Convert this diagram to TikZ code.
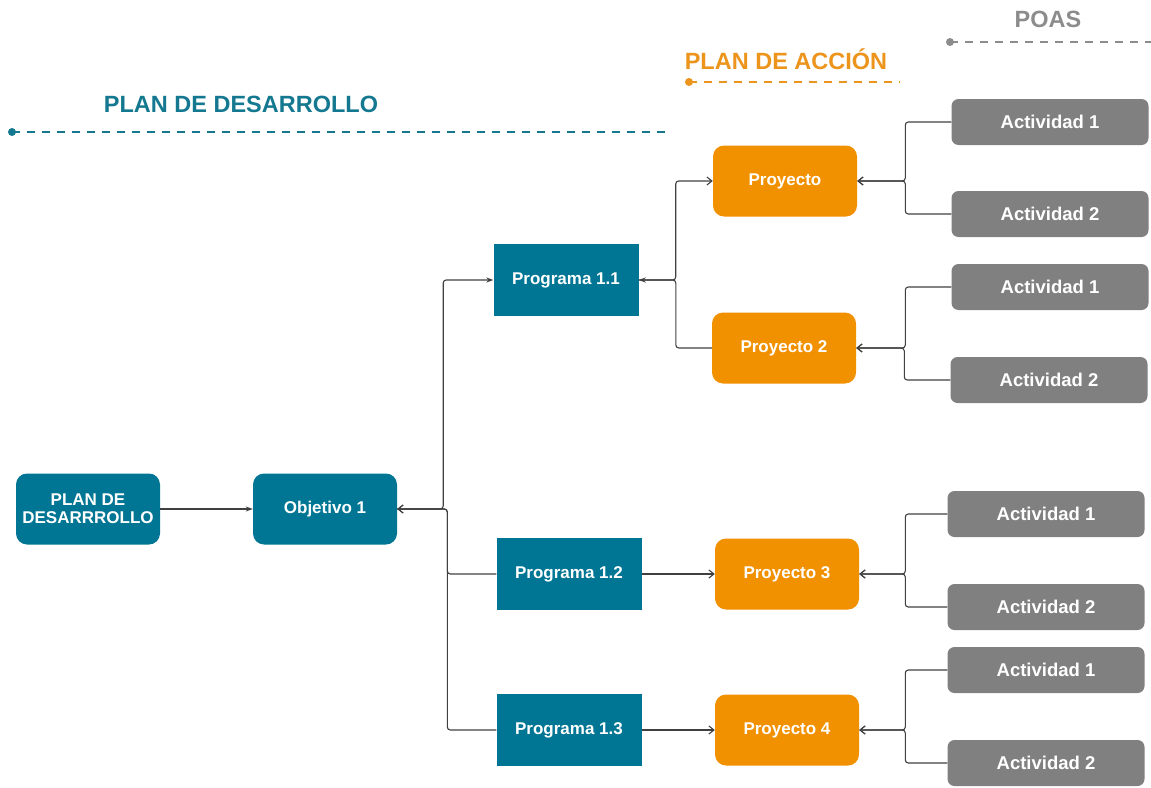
\documentclass[tikz,border=0pt]{standalone}
\usepackage{fontspec}
\setmainfont{Liberation Sans}
\usetikzlibrary{arrows.meta}
\definecolor{tealbox}{RGB}{0,118,148}
\definecolor{orangebox}{RGB}{242,145,0}
\definecolor{graybox}{RGB}{128,128,128}
\definecolor{tealtxt}{RGB}{20,120,145}
\definecolor{orangetxt}{RGB}{236,148,28}
\definecolor{graytxt}{RGB}{140,140,140}
\definecolor{linecol}{RGB}{64,64,64}
\begin{document}
\begin{tikzpicture}[x=1pt,y=-1pt,
      every node/.style = {align=center, text=white,
        font=\fontsize{17}{18}\selectfont\bfseries},
      plan/.style = {fill=tealbox, rounded corners=11pt,
        minimum width=144pt, minimum height=71pt},
      prog/.style = {fill=tealbox, minimum width=145pt, minimum height=72pt},
      proy/.style = {fill=orangebox, rounded corners=11pt,
        minimum width=144pt, minimum height=71pt},
      act/.style = {fill=graybox, rounded corners=7pt,
        minimum width=197pt, minimum height=46pt,
        font=\fontsize{18.5}{19}\selectfont\bfseries},
      title/.style = {font=\fontsize{23.5}{25}\selectfont\bfseries},
      link/.style = {draw=linecol, line width=1.1pt, rounded corners=3pt},
      open/.style = {link, -{Straight Barb[length=5pt,width=8pt]}},
      solid tip/.style = {link, -{Stealth[length=7pt,width=5pt]}}]
    \useasboundingbox (0,0) rectangle (1151,787);
    % titles
    \node[title, text=tealtxt] (tplan) at (241,104) {PLAN DE DESARROLLO};
    \node[title, text=orangetxt] (taccion) at (786,59) {PLAN DE ACCIÓN};
    \node[title, text=graytxt] (tpoas) at (1048,19) {POAS};
    \draw[tealtxt, line width=2.5pt, dash pattern=on 8pt off 7pt] (12,132) -- (668,132);
    \fill[tealtxt] (12,132) circle (4pt);
    \draw[orangetxt, line width=2.5pt, dash pattern=on 8pt off 7pt] (689,82) -- (900,82);
    \fill[orangetxt] (689,82) circle (4pt);
    \draw[graytxt, line width=2.5pt, dash pattern=on 8pt off 7pt] (950,42) -- (1151,42);
    \fill[graytxt] (950,42) circle (4pt);
    % boxes
    \node[plan] (pd) at (88,509) {PLAN DE\\DESARRROLLO};
    \node[plan] (obj) at (325,509) {Objetivo 1};
    \node[prog] (p11) at (566,280) {Programa 1.1};
    \node[prog] (p12) at (569,574) {Programa 1.2};
    \node[prog] (p13) at (569,730) {Programa 1.3};
    \node[proy] (y1) at (785,181) {Proyecto};
    \node[proy] (y2) at (784,348) {Proyecto 2};
    \node[proy] (y3) at (787,574) {Proyecto 3};
    \node[proy] (y4) at (787,730) {Proyecto 4};
    \node[act] (a11) at (1050,122) {Actividad 1};
    \node[act] (a12) at (1050,214) {Actividad 2};
    \node[act] (a21) at (1050,287) {Actividad 1};
    \node[act] (a22) at (1049,380) {Actividad 2};
    \node[act] (a31) at (1046,514) {Actividad 1};
    \node[act] (a32) at (1046,607) {Actividad 2};
    \node[act] (a41) at (1046,670) {Actividad 1};
    \node[act] (a42) at (1046,763) {Actividad 2};
    % connectors
    \draw[solid tip] (pd) -- (obj);
    \draw[solid tip] (obj.east) -- ++(46,0) |- (p11.west);
    \draw[open] (p12.west) -- ++(-49,0) |- (obj.east);
    \draw[open] (p13.west) -- ++(-49,0) |- (obj.east);
    \draw[open] (p11.east) -- ++(37,0) |- (y1.west);
    \draw[solid tip] (y2.west) -- ++(-36,0) |- (p11.east);
    \draw[open] (p12) -- (y3);
    \draw[open] (p13) -- (y4);
    \foreach \a/\y/\d in {a11/y1/46, a12/y1/46, a21/y2/46, a22/y2/46,
                          a31/y3/42, a32/y3/42, a41/y4/42, a42/y4/42}
      \draw[open] (\a.west) -- ++(-\d,0) |- (\y.east);
\end{tikzpicture}
\end{document}
